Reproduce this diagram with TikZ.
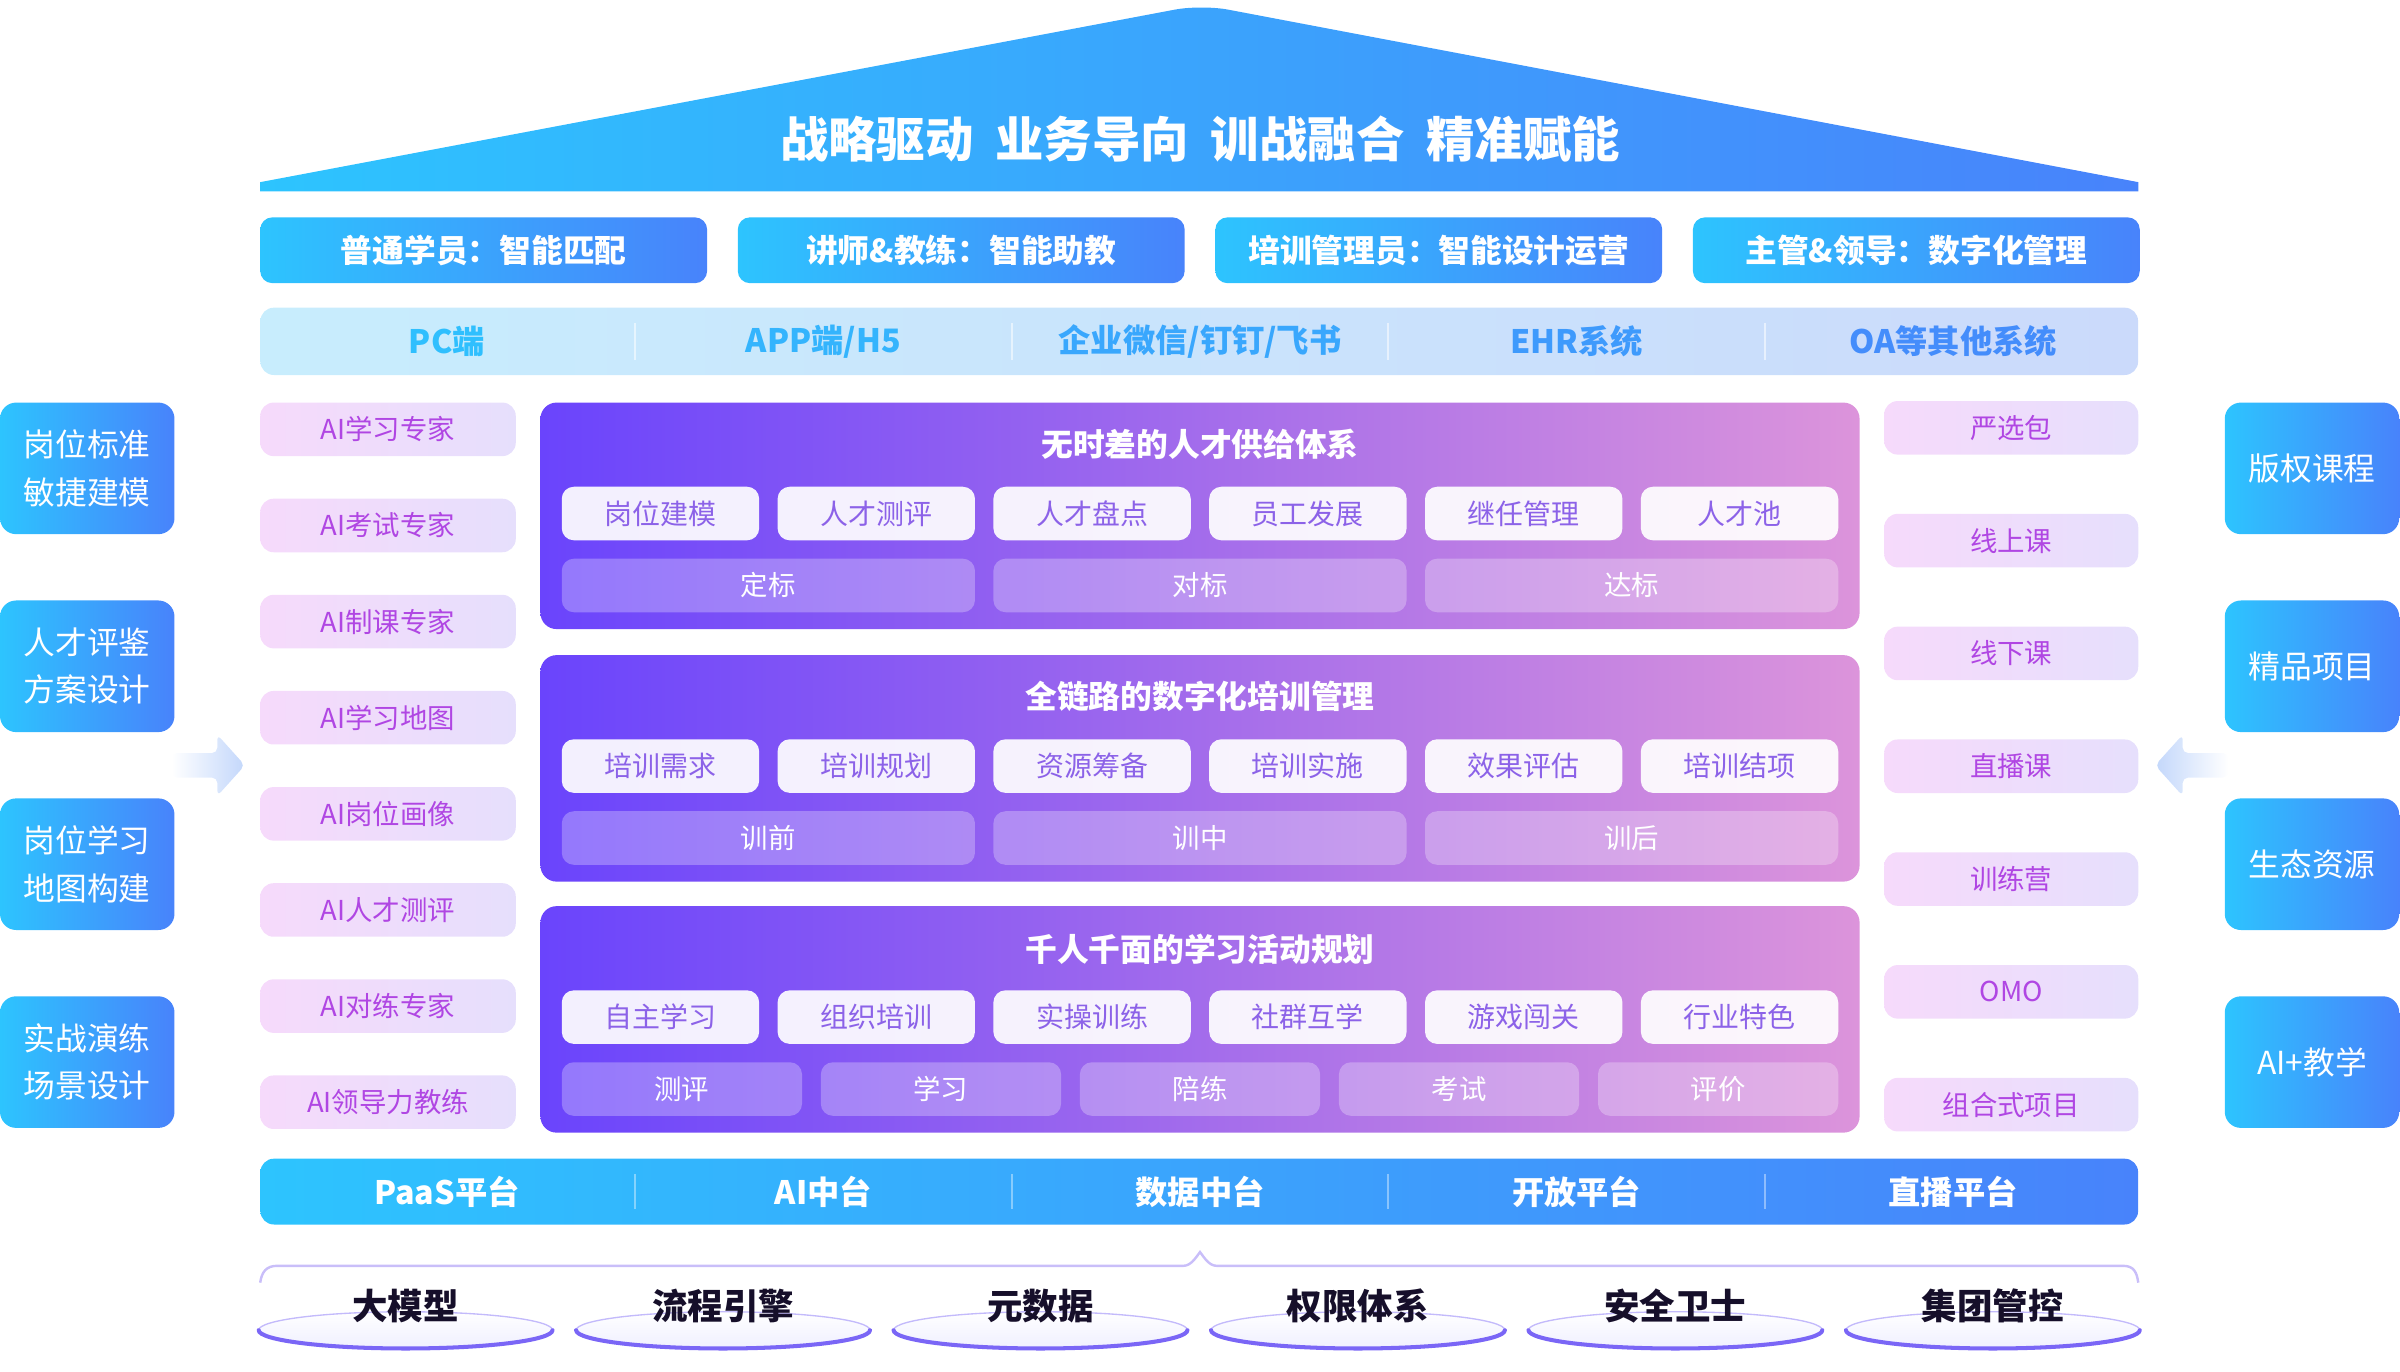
\documentclass[tikz,border=0pt]{standalone}
\usepackage{fontspec}
\setmainfont{Noto Sans CJK SC}
\usepackage{xcolor}
\usetikzlibrary{shapes.geometric}

\definecolor{skyL}{HTML}{2DC4FE}
\definecolor{skyR}{HTML}{4883FB}
\definecolor{chanL}{HTML}{C8EDFD}
\definecolor{chanR}{HTML}{CBDAFB}
\definecolor{violetL}{HTML}{6A44FC}
\definecolor{violetM}{HTML}{A56EEA}
\definecolor{violetR}{HTML}{DC94DB}
\definecolor{pinkL}{HTML}{F6DAFB}
\definecolor{pinkR}{HTML}{E6DFFC}
\definecolor{aitext}{HTML}{B046E3}
\definecolor{itemtext}{HTML}{8C62E8}
\definecolor{rimcol}{HTML}{7A66F6}
\definecolor{bracecol}{HTML}{C9BEF9}
\definecolor{arrowcol}{HTML}{C3D7FB}
\definecolor{basetext}{HTML}{160F2A}

\begin{document}
\begin{tikzpicture}
    [x=0.02cm,y=-0.02cm,
    every node/.style = {inner sep=0pt, outer sep=0pt},
    bluebox/.style = {rounded corners=4.5pt, left color=skyL, right color=skyR,
                      text=white},
    rolebox/.style = {bluebox, minimum width=5.84cm, minimum height=0.86cm,
                      font=\fontsize{11.8}{14}\selectfont\bfseries},
    sidebox/.style = {bluebox, rounded corners=6pt, minimum width=2.28cm,
                      minimum height=1.72cm, align=center,
                      font=\fontsize{11.8}{17.6}\selectfont},
    pillbox/.style = {rounded corners=5pt, left color=pinkL, right color=pinkR,
                      minimum height=0.70cm, text=aitext,
                      font=\fontsize{10.2}{12}\selectfont},
    panel/.style = {rounded corners=6pt, left color=violetL, middle color=violetM,
                    right color=violetR, minimum width=17.24cm, minimum height=2.96cm},
    paneltitle/.style = {text=white, font=\fontsize{11.8}{14}\selectfont\bfseries},
    itembox/.style = {rounded corners=4.5pt, fill=white, fill opacity=0.92,
                      text opacity=1, text=itemtext, minimum width=2.58cm,
                      minimum height=0.70cm, font=\fontsize{10.4}{12}\selectfont},
    stagebox/.style = {rounded corners=4.5pt, fill=white, fill opacity=0.28,
                       text opacity=1, text=white, minimum height=0.70cm,
                       font=\fontsize{10.2}{12}\selectfont},
    rowtext/.style = {font=\fontsize{12}{14}\selectfont\bfseries},
    divider/.style = {white, line width=0.7pt, opacity=0.55},
    base/.style = {ellipse, minimum width=3.84cm, minimum height=0.48cm,
                   top color=white, bottom color=blue!6, draw=rimcol!45,
                   line width=0.5pt},
    rim/.style = {rimcol, line width=1.5pt, line cap=round},
    basename/.style = {text=basetext, font=\fontsize{13.2}{15}\selectfont\bfseries}]
    \useasboundingbox (0,0) rectangle (1568,896);

    % Dach
    \shade[left color=skyL, right color=skyR] (170,125) -- (170,119)
        [rounded corners=10pt] -- (785,3) [sharp corners] -- (1397,119) -- (1397,125) -- cycle;
    \node[text=white, font=\fontsize{18}{20}\selectfont\bfseries] (roof) at (784,91)
        {战略驱动\hspace{0.45em}业务导向\hspace{0.45em}训战融合\hspace{0.45em}精准赋能};

    % Rollen
    \foreach \t [count=\i] in {普通学员：智能匹配, 讲师\&教练：智能助教,
                               培训管理员：智能设计运营, 主管\&领导：数字化管理}
        \node[rolebox] (role\i) at ({316+312*(\i-1)},163.5) {\t};

    % Kanaele
    \node[rounded corners=5pt, left color=chanL, right color=chanR,
          minimum width=24.54cm, minimum height=0.88cm] (chan) at (783.5,223) {};
    \foreach \x in {415,661,907,1153}
        \draw[divider] (\x,211) -- (\x,235);
    \node[rowtext, text=skyL!92!skyR] (ch1) at (292,223) {PC端};
    \node[rowtext, text=skyL!75!skyR] (ch2) at (538,223) {APP端/H5};
    \node[rowtext, text=skyL!55!skyR] (ch3) at (784,223) {企业微信/钉钉/飞书};
    \node[rowtext, text=skyL!35!skyR] (ch4) at (1030,223) {EHR系统};
    \node[rowtext, text=skyL!15!skyR] (ch5) at (1276,223) {OA等其他系统};

    % linke Spalte
    \foreach \t [count=\i] in {{岗位标准\\敏捷建模}, {人才评鉴\\方案设计},
                               {岗位学习\\地图构建}, {实战演练\\场景设计}}
        \node[sidebox] (lb\i) at (57,{306+129.3*(\i-1)}) {\t};
    % rechte Spalte
    \foreach \t [count=\i] in {版权课程, 精品项目, 生态资源, AI+教学}
        \node[sidebox] (rb\i) at (1510.5,{306+129.3*(\i-1)}) {\t};

    % Pfeile
    \shade[left color=white, right color=arrowcol, rounded corners=2pt]
        (112,492) -- (142,492) -- (142,480) -- (160,500) -- (142,520) -- (142,508) -- (112,508) -- cycle;
    \shade[right color=white, left color=arrowcol, rounded corners=2pt]
        (1456,492) -- (1426,492) -- (1426,480) -- (1408,500) -- (1426,520) -- (1426,508) -- (1456,508) -- cycle;

    % AI-Liste
    \foreach \t [count=\i] in {AI学习专家, AI考试专家, AI制课专家, AI学习地图,
                               AI岗位画像, AI人才测评, AI对练专家, AI领导力教练}
        \node[pillbox, minimum width=3.34cm] (ai\i) at (253.5,{280.5+62.8*(\i-1)}) {\t};
    % Kursformen
    \foreach \t [count=\i] in {严选包, 线上课, 线下课, 直播课, 训练营, OMO, 组合式项目}
        \node[pillbox, minimum width=3.32cm] (cl\i) at (1314,{279.5+73.7*(\i-1)}) {\t};

    % Panel 1
    \node[panel] (p1) at (784,337) {};
    \node[paneltitle] (p1t) at (784,290) {无时差的人才供给体系};
    \foreach \t [count=\i] in {岗位建模, 人才测评, 人才盘点, 员工发展, 继任管理, 人才池}
        \node[itembox] (p1a\i) at ({431.5+141*(\i-1)},335.5) {\t};
    \foreach \t [count=\i] in {定标, 对标, 达标}
        \node[stagebox, minimum width=5.4cm] (p1b\i) at ({502+282*(\i-1)},382.5) {\t};

    % Panel 2
    \node[panel] (p2) at (784,502) {};
    \node[paneltitle] (p2t) at (784,455) {全链路的数字化培训管理};
    \foreach \t [count=\i] in {培训需求, 培训规划, 资源筹备, 培训实施, 效果评估, 培训结项}
        \node[itembox] (p2a\i) at ({431.5+141*(\i-1)},500.5) {\t};
    \foreach \t [count=\i] in {训前, 训中, 训后}
        \node[stagebox, minimum width=5.4cm] (p2b\i) at ({502+282*(\i-1)},547.5) {\t};

    % Panel 3
    \node[panel] (p3) at (784,666) {};
    \node[paneltitle] (p3t) at (784,620) {千人千面的学习活动规划};
    \foreach \t [count=\i] in {自主学习, 组织培训, 实操训练, 社群互学, 游戏闯关, 行业特色}
        \node[itembox] (p3a\i) at ({431.5+141*(\i-1)},664.5) {\t};
    \foreach \t [count=\i] in {测评, 学习, 陪练, 考试, 评价}
        \node[stagebox, minimum width=3.14cm] (p3b\i) at ({445.5+169.25*(\i-1)},711.5) {\t};

    % Plattformen
    \node[bluebox, rounded corners=5pt, minimum width=24.54cm, minimum height=0.86cm]
        (plat) at (783.5,778.5) {};
    \foreach \x in {415,661,907,1153}
        \draw[divider, opacity=0.4] (\x,767) -- (\x,790);
    \foreach \t [count=\i] in {PaaS平台, AI中台, 数据中台, 开放平台, 直播平台}
        \node[rowtext, text=white] (pf\i) at ({292+246*(\i-1)},778.5) {\t};

    % Klammer
    \draw[bracecol, line width=0.9pt]
        (170,838) .. controls (171,831) and (174,827) .. (181,827) -- (773,827)
        .. controls (778,827) and (781,822) .. (784,818)
        .. controls (787,822) and (790,827) .. (795,827) -- (1387,827)
        .. controls (1394,827) and (1396,831) .. (1397,838);

    % Basis
    \foreach \t [count=\i] in {大模型, 流程引擎, 元数据, 权限体系, 安全卫士, 集团管控} {
        \node[base] (b\i) at ({265+207.4*(\i-1)},869) {};
        \draw[rim] (b\i.east) arc[start angle=0, end angle=180, x radius=96, y radius=12];
        \node[basename] (bt\i) at ({265+207.4*(\i-1)},853) {\t};
    }
\end{tikzpicture}
\end{document}
